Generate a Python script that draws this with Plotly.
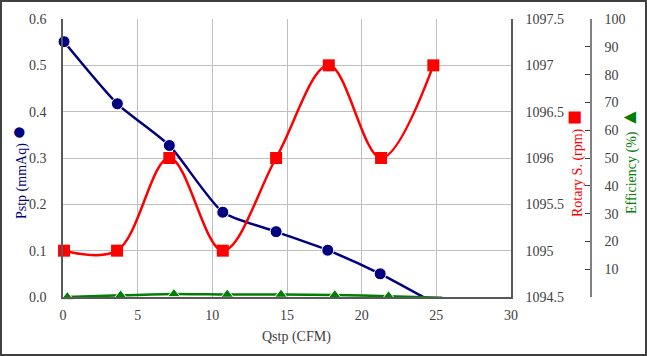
import plotly.graph_objects as go

# ---- data ----
qstp_p = [0.07, 3.64, 7.12, 10.7, 14.27, 17.73, 21.24, 24.8]
pstp = [0.551, 0.417, 0.327, 0.183, 0.141, 0.101, 0.050, -0.012]

qstp_r = [0.07, 3.62, 7.12, 10.7, 14.27, 17.8, 21.3, 24.8]
rotary = [1095, 1095, 1096, 1095, 1096, 1097, 1096, 1097]

qstp_e = [0.29, 3.86, 7.43, 11.0, 14.6, 18.2, 21.8, 25.4]
efficiency = [0.0, 0.6, 1.1, 0.9, 0.9, 0.7, 0.3, -0.3]

x_ticks = [0, 5, 10, 15, 20, 25, 30]
eff_ticks = [0, 10, 20, 30, 40, 50, 60, 70, 80, 90, 100]
eff_labels = ["", "10", "20", "30", "40", "50", "60", "70", "80", "90", "100"]

W, H = 647, 356
ML, MR, MT, MB = 63, 10, 19, 59
PW = W - ML - MR
PH = H - MT - MB
FONT = "Liberation Serif"
TXT = "#404040"
TF = dict(family=FONT, size=14, color=TXT)

def px_x(px):
    return (px - ML) / PW

def px_y(py):
    return (H - MB - py) / PH

fig = go.Figure()

fig.add_trace(go.Scatter(
    x=qstp_r, y=rotary, yaxis="y2", mode="lines+markers",
    line=dict(color="#FF0000", width=2.5, shape="spline", smoothing=1.0),
    marker=dict(symbol="square", size=12, color="#FF0000", opacity=1),
    cliponaxis=False, showlegend=False))

fig.add_trace(go.Scatter(
    x=qstp_p, y=pstp, mode="lines+markers",
    line=dict(color="#000080", width=2.5, shape="spline", smoothing=0.6),
    marker=dict(symbol="circle", size=[12] * (len(pstp) - 1) + [0], color="#000080", opacity=1),
    cliponaxis=False, showlegend=False))

fig.add_trace(go.Scatter(
    x=qstp_e, y=efficiency, yaxis="y3", mode="lines+markers",
    line=dict(color="#008000", width=2.5, shape="spline", smoothing=0.6),
    marker=dict(symbol="triangle-up", size=[11] * (len(efficiency) - 1) + [0], color="#008000", opacity=1),
    cliponaxis=False, showlegend=False))

x_end = px_x(511)

fig.update_layout(
    width=W, height=H,
    margin=dict(l=ML, r=MR, t=MT, b=MB, autoexpand=False),
    paper_bgcolor="white", plot_bgcolor="white",
    font=dict(family=FONT, size=14, color=TXT),
    xaxis=dict(domain=[0, x_end], range=[0, 30], tickvals=x_ticks,
               showgrid=True, gridcolor="#BFBFBF", gridwidth=1,
               showline=True, linecolor="#595959", linewidth=1.5,
               ticks="", zeroline=False, tickfont=TF, ticklabelstandoff=4,
               automargin=False),
    yaxis=dict(range=[0, 0.6], tickvals=[0, 0.1, 0.2, 0.3, 0.4, 0.5, 0.6],
               tickformat=".1f", showgrid=True, gridcolor="#BFBFBF", gridwidth=1,
               showline=True, linecolor="#595959", linewidth=1.5,
               ticks="", zeroline=False, tickfont=TF, ticklabelstandoff=12,
               automargin=False),
    yaxis2=dict(range=[1094.5, 1097.5], dtick=0.5, tickformat=".1~f",
                overlaying="y", side="right",
                anchor="x", showgrid=False, showline=True, linecolor="#595959",
                linewidth=1.5, ticks="", zeroline=False,
                tickfont=TF, ticklabelstandoff=10, automargin=False),
    yaxis3=dict(range=[0, 100], tickvals=eff_ticks, ticktext=eff_labels,
                overlaying="y", side="right", anchor="free", position=px_x(591),
                showgrid=False, showline=True, linecolor="#808080", linewidth=1.5,
                ticks="inside", ticklen=5, tickcolor="#404040", zeroline=False,
                tickfont=TF, ticklabelstandoff=10, automargin=False),
)

def title_ann(text, cx, cy, color, angle=0):
    return dict(text=text, x=px_x(cx), y=px_y(cy), xref="paper", yref="paper",
                xanchor="center", yanchor="middle", showarrow=False, textangle=angle,
                font=dict(size=14, color=color, family=FONT))

annotations = [
    title_ann("Qstp (CFM)", 296, 337, TXT),
    title_ann("Pstp (mmAq) <span style='font-size:24px'>●</span>", 18, 172, "#000080", -90),
    title_ann("Rotary S. (rpm) <span style='font-size:25px'>■</span>", 573, 164, "#FF0000", -90),
    title_ann("Efficiency (%) <span style='font-size:21px'>▲</span>", 629, 161, "#008000", -90),
]
fig.update_layout(annotations=annotations)

fig.add_shape(type="rect", xref="paper", yref="paper",
              x0=px_x(1), x1=px_x(W - 1), y0=px_y(H - 1), y1=px_y(1),
              line=dict(color="#404040", width=2), fillcolor="rgba(0,0,0,0)", layer="above")

fig.write_html("out.html", config={"displayModeBar": False},
               post_script="document.body.style.margin='0';document.body.style.overflow='hidden';")
